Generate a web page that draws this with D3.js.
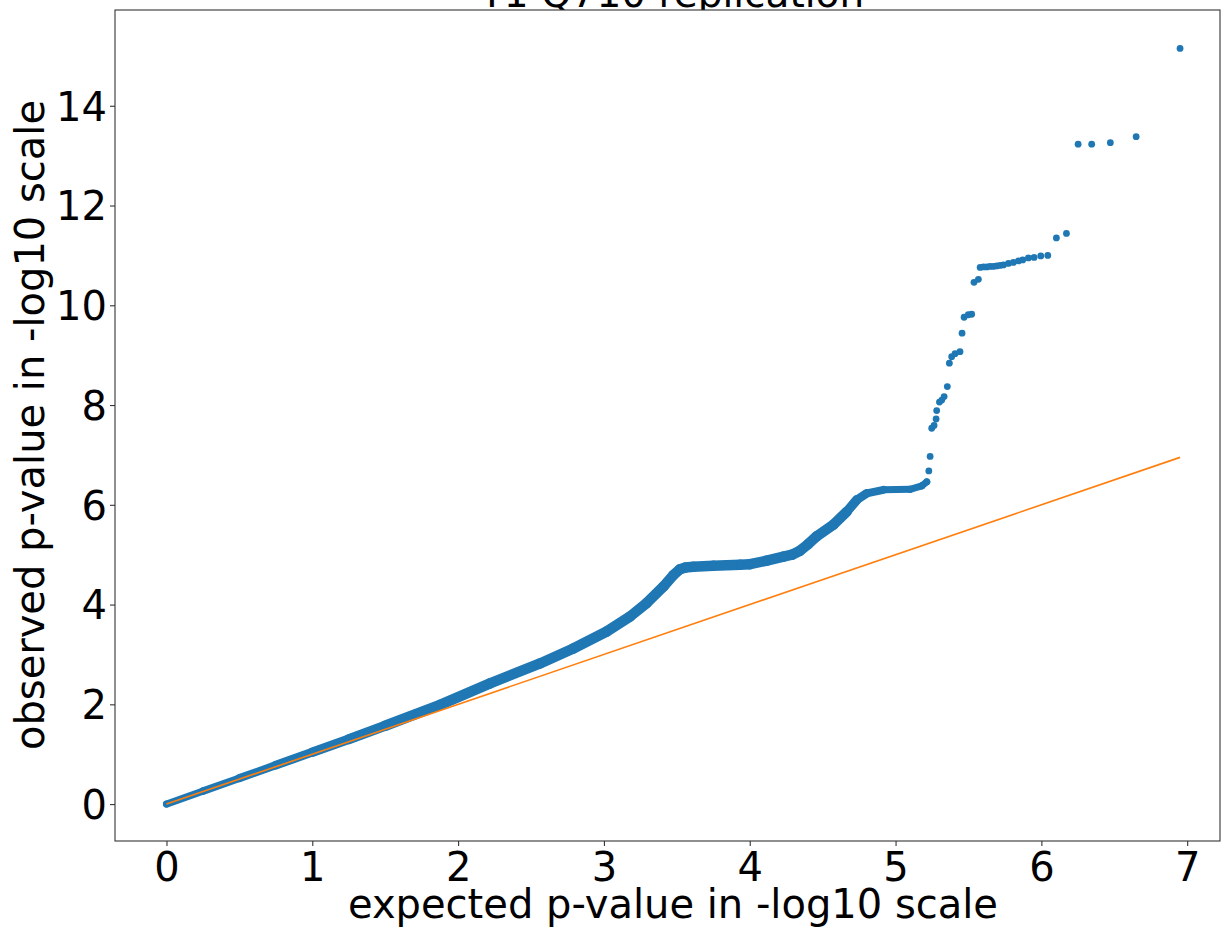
<!DOCTYPE html>
<html><head><meta charset="utf-8">
<script src="https://cdn.jsdelivr.net/npm/d3@7"></script>
<style>body{margin:0;background:#fff} svg{display:block} text{font-family:"DejaVu Sans",sans-serif}</style>
</head><body><svg id="c" width="1221" height="932"></svg>
<script>
const title = "T1 Q710 replication";
const xLabel = "expected p-value in -log10 scale";
const yLabel = "observed p-value in -log10 scale";
const xTicks = [0,1,2,3,4,5,6,7];
const yTicks = [0,2,4,6,8,10,12,14];

// dense part of the Q-Q scatter
const bandExpected = [0, 0.25, 0.5, 0.75, 1.0, 1.25, 1.5, 1.876, 2.219, 2.562, 2.79, 3.019, 3.179, 3.293, 3.408, 3.476, 3.522, 3.56, 3.613, 3.75, 3.933, 4.002, 4.117, 4.231, 4.29, 4.345, 4.40, 4.46, 4.573, 4.665, 4.734, 4.802, 4.917, 5.099, 5.18, 5.214];
const bandObserved = [0, 0.26, 0.52, 0.78, 1.04, 1.30, 1.57, 1.99, 2.42, 2.82, 3.12, 3.46, 3.76, 4.03, 4.36, 4.59, 4.71, 4.745, 4.76, 4.78, 4.80, 4.81, 4.88, 4.96, 5.00, 5.08, 5.21, 5.37, 5.60, 5.86, 6.10, 6.23, 6.30, 6.31, 6.38, 6.46];

// sparse tail points
const tailExpected = [5.228, 5.237, 5.248, 5.264, 5.278, 5.282, 5.301, 5.317, 5.333, 5.355, 5.369, 5.385, 5.408, 5.442, 5.456, 5.470, 5.499, 5.522, 5.538, 5.568, 5.580, 5.603, 5.626, 5.648, 5.671, 5.694, 5.717, 5.740, 5.774, 5.808, 5.843, 5.872, 5.911, 5.950, 5.996, 6.044, 6.103, 6.172, 6.252, 6.345, 6.473, 6.650, 6.951];
const tailObserved = [6.68, 6.97, 7.535, 7.59, 7.72, 7.89, 8.06, 8.10, 8.17, 8.37, 8.84, 8.97, 9.03, 9.07, 9.44, 9.76, 9.81, 9.82, 10.46, 10.52, 10.76, 10.77, 10.77, 10.78, 10.78, 10.79, 10.80, 10.81, 10.84, 10.86, 10.89, 10.91, 10.95, 10.96, 10.99, 11.00, 11.35, 11.44, 13.23, 13.23, 13.26, 13.38, 15.15];

// reference diagonal
const diagExpected = [0, 6.951];
const diagObserved = [0, 6.951];

const svg = d3.select("#c");
const L = 115, R = 1220, T = 10, B = 841;
const x = d3.scaleLinear().domain([-0.353, 7.225]).range([L, R]);
const y = d3.scaleLinear().domain([-0.74, 15.92]).range([B, T]);
const blue = "#1f77b4", orange = "#ff7f0e";

// title (drawn first, axes background covers its descenders)
svg.append("text").attr("x", 672).attr("y", 7).attr("text-anchor", "middle")
  .attr("font-size", 39).attr("fill", "#000").text(title);
svg.append("rect").attr("x", L).attr("y", T).attr("width", R - L).attr("height", B - T).attr("fill", "#fff");

// band as rounded segments with width depending on density
const bandPts = bandExpected.map((e, i) => [e, bandObserved[i]]);
function bandWidth(e) {
  const s = t => Math.max(0, Math.min(1, t));
  const up = s((e - 0.2) / 1.3), down = s((4.95 - e) / 0.35);
  return 7 + 3.5 * Math.min(up, down);
}
const gBand = svg.append("g");
for (let i = 0; i < bandPts.length - 1; i++) {
  const a = bandPts[i], b = bandPts[i + 1];
  gBand.append("line")
    .attr("x1", x(a[0])).attr("y1", y(a[1])).attr("x2", x(b[0])).attr("y2", y(b[1]))
    .attr("stroke", blue).attr("stroke-linecap", "round")
    .attr("stroke-width", bandWidth((a[0] + b[0]) / 2));
}
svg.append("g").selectAll("circle").data(bandPts).join("circle")
  .attr("cx", d => x(d[0])).attr("cy", d => y(d[1])).attr("r", 3.5).attr("fill", blue);

// tail points
const tailPts = tailExpected.map((e, i) => [e, tailObserved[i]]);
svg.append("g").selectAll("circle").data(tailPts).join("circle")
  .attr("cx", d => x(d[0])).attr("cy", d => y(d[1])).attr("r", 3.4).attr("fill", blue);

// diagonal line
const line = d3.line().x(d => x(d[0])).y(d => y(d[1]));
svg.append("path").datum(diagExpected.map((e, i) => [e, diagObserved[i]]))
  .attr("d", line).attr("fill", "none").attr("stroke", orange).attr("stroke-width", 1.6);

// axes
const xAxis = svg.append("g").attr("transform", `translate(0,${B})`)
  .call(d3.axisBottom(x).tickValues(xTicks).tickFormat(d3.format("d")).tickSize(5).tickSizeOuter(0).tickPadding(7));
const yAxis = svg.append("g").attr("transform", `translate(${L},0)`)
  .call(d3.axisLeft(y).tickValues(yTicks).tickFormat(d3.format("d")).tickSize(5).tickSizeOuter(0).tickPadding(3));
[xAxis, yAxis].forEach(g => {
  g.select(".domain").remove();
  g.selectAll(".tick line").attr("stroke", "#333").attr("stroke-width", 1.1);
  g.selectAll(".tick text").attr("font-size", 40).attr("fill", "#000").attr("font-family", "DejaVu Sans");
});
yAxis.selectAll(".tick text").attr("dy", "0.36em");

// spines
svg.append("rect").attr("x", L).attr("y", T).attr("width", R - L).attr("height", B - T)
  .attr("fill", "none").attr("stroke", "#333").attr("stroke-width", 1.1);

// axis labels
svg.append("text").attr("x", 673).attr("y", 918).attr("text-anchor", "middle")
  .attr("font-size", 40).attr("fill", "#000").text(xLabel);
svg.append("text").attr("transform", "translate(44,425) rotate(-90)").attr("text-anchor", "middle")
  .attr("font-size", 40).attr("fill", "#000").text(yLabel);
</script></body></html>
